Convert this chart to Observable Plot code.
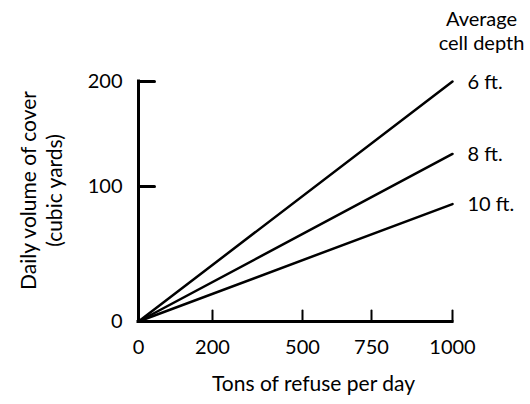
<!DOCTYPE html>
<html>
<head>
<meta charset="utf-8">
<script src="https://cdn.jsdelivr.net/npm/d3@7"></script>
<script src="https://cdn.jsdelivr.net/npm/@observablehq/plot@0.6"></script>
<style>
  html, body { margin: 0; padding: 0; background: #fff; overflow: hidden; }
</style>
</head>
<body>
<div id="chart"></div>
<script>
// ---- data ----
const depths = ["6 ft.", "8 ft.", "10 ft."];
const tonsStart = 0;
const tonsEnd = 1000;
const volumeAtEnd = [200, 131, 87];
const xTicks = [0, 200, 500, 750, 1000];
const yTicks = [0, 100, 200];
const xTitle = "Tons of refuse per day";
const yTitle = "Daily volume of cover\n(cubic yards)";
const legendTitle = "Average\ncell depth";

// ---- table ----
const rows = depths.flatMap((d, i) => [
  {depth: d, tons: tonsStart, volume: 0},
  {depth: d, tons: tonsEnd, volume: volumeAtEnd[i]}
]);
const ends = rows.filter(r => r.tons === tonsEnd);

const tickUp = {draw(c, l) { c.moveTo(0, 0); c.lineTo(0, -l); }};

const chart = Plot.plot({
  width: 530,
  height: 404,
  marginLeft: 138,
  marginRight: 78,
  marginTop: 81,
  marginBottom: 83,
  style: {fontFamily: "Lato, sans-serif", fontSize: "20px", background: "#fff", color: "#000"},
  x: {type: "linear", domain: xTicks, range: [138, 212, 302, 371, 452], axis: null},
  y: {type: "linear", domain: yTicks, range: [321, 186, 81], axis: null},
  marks: [
    // axis lines
    Plot.ruleY([0], {stroke: "#000", strokeWidth: 3, strokeLinecap: "square"}),
    Plot.ruleX([0], {stroke: "#000", strokeWidth: 3, strokeLinecap: "square"}),
    // ticks
    Plot.vector(xTicks.filter(d => d > 0), {x: d => d, y: () => 0, length: 11, anchor: "start", shape: tickUp, stroke: "#000", strokeWidth: 2}),
    Plot.vector(yTicks.filter(d => d > 0), {x: () => 0, y: d => d, length: 16, rotate: 90, anchor: "start", shape: tickUp, stroke: "#000", strokeWidth: 3}),
    // tick labels
    Plot.text(xTicks, {x: d => d, y: () => 0, text: d => String(d), dy: 26, fill: "#000"}),
    Plot.text(yTicks, {x: () => 0, y: d => d, text: d => String(d), dx: -16, dy: 0, textAnchor: "end", fill: "#000"}),
    // lines
    Plot.line(rows, {x: "tons", y: "volume", z: "depth", stroke: "#000", strokeWidth: 2.5}),
    // series labels
    Plot.text(ends, {x: "tons", y: "volume", text: "depth", dx: 15, dy: 1, textAnchor: "start", fill: "#000"}),
    // legend title
    Plot.text([legendTitle], {frameAnchor: "top-right", dx: 29, dy: -51, lineAnchor: "middle", lineHeight: 1.2, textAnchor: "middle", fill: "#000"}),
    // axis titles
    Plot.text([xTitle], {frameAnchor: "bottom", dx: 18, dy: 69, fontSize: 21, textAnchor: "middle", fill: "#000"}),
    Plot.text([yTitle], {frameAnchor: "left", rotate: -90, dx: -98, dy: -11, fontSize: 21, textAnchor: "middle", lineAnchor: "middle", lineHeight: 1.24, fill: "#000"})
  ]
});
document.getElementById("chart").appendChild(chart);
</script>
</body>
</html>
